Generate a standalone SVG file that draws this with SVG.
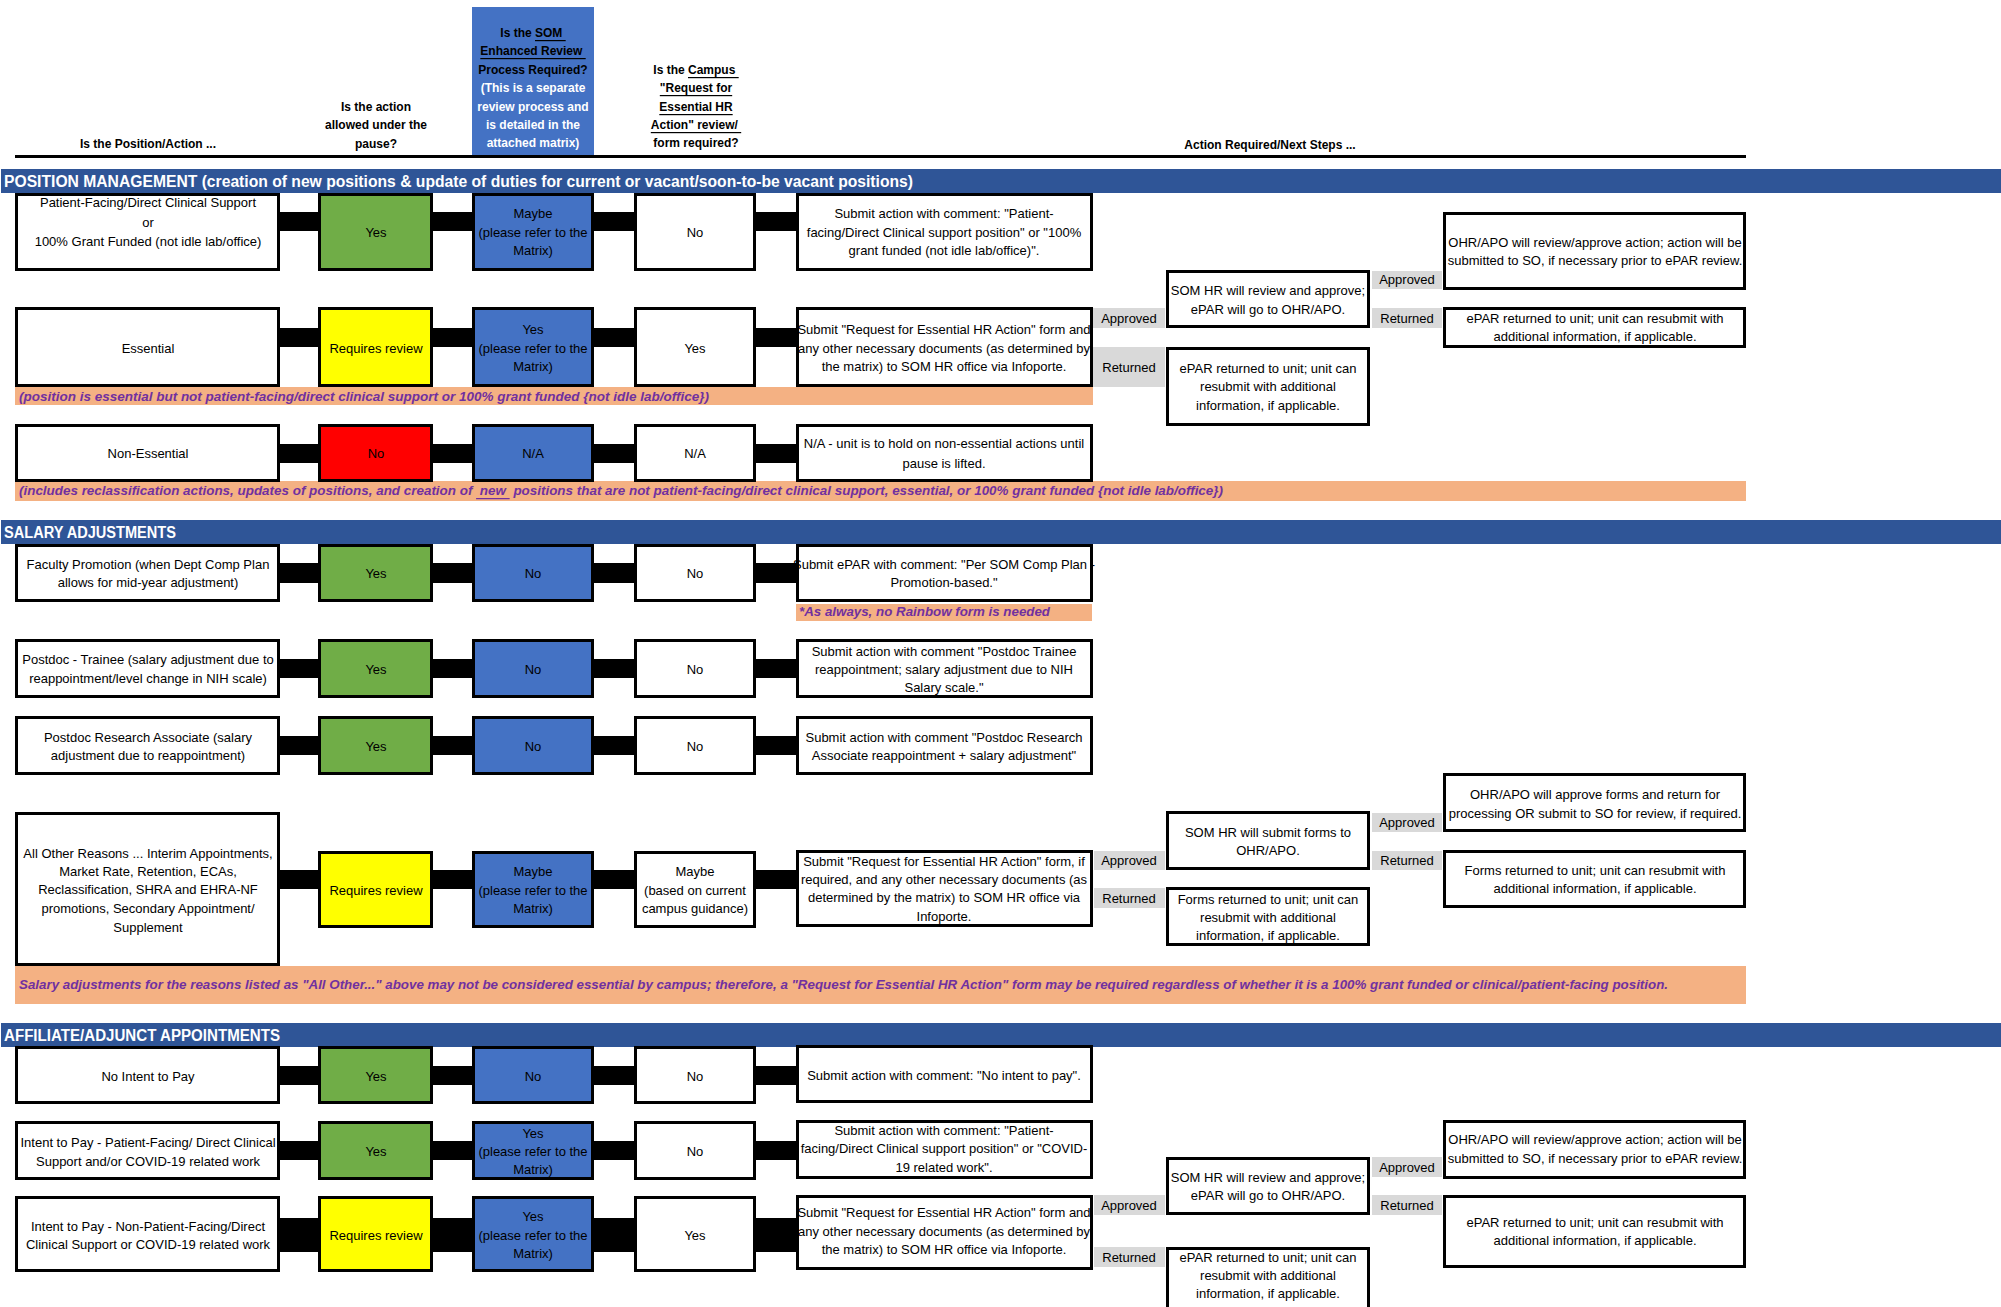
<svg xmlns="http://www.w3.org/2000/svg" width="2001" height="1307" viewBox="0 0 2001 1307">
<style>
text{font-family:"Liberation Sans",Arial,sans-serif;font-size:13px;fill:#000;text-anchor:middle;dominant-baseline:central}
.hd{font-weight:bold;font-size:12px}
.wh{fill:#fff}
.sec{font-weight:bold;font-size:16px;fill:#fff;text-anchor:start}
.note{font-weight:bold;font-style:italic;fill:#7030A0;text-anchor:start;font-size:12.5px}
.box{fill:#fff;stroke:#000;stroke-width:3}
.grn{fill:#70AD47;stroke:#000;stroke-width:3}
.blu{fill:#4472C4;stroke:#000;stroke-width:3}
.yel{fill:#FFFF00;stroke:#000;stroke-width:3}
.red{fill:#FF0000;stroke:#000;stroke-width:3}
.gry{fill:#D9D9D9}
.pch{fill:#F4B183}
.bar{fill:#2F5597}
.con{fill:#000}
.u{text-decoration:underline}
</style>
<rect width="2001" height="1307" fill="#fff"/>

<!-- header -->
<g id="header">
<rect x="472" y="7" width="122" height="148" fill="#4472C4"/>
<text class="hd" x="148" y="144">Is the Position/Action ...</text>
<text class="hd" x="376" y="107">Is the action</text>
<text class="hd" x="376" y="125">allowed under the</text>
<text class="hd" x="376" y="144">pause?</text>
<text class="hd" x="533" y="33">Is the <tspan class="u">SOM&#160;</tspan></text>
<text class="hd u" x="533" y="51">Enhanced Review&#160;</text>
<text class="hd" x="533" y="70">Process Required?</text>
<text class="hd wh" x="533" y="88">(This is a separate</text>
<text class="hd wh" x="533" y="107">review process and</text>
<text class="hd wh" x="533" y="125">is detailed in the</text>
<text class="hd wh" x="533" y="143">attached matrix)</text>
<text class="hd" x="696" y="70">Is the <tspan class="u">Campus&#160;</tspan></text>
<text class="hd u" x="696" y="88">"Request for</text>
<text class="hd u" x="696" y="107">Essential HR</text>
<text class="hd u" x="696" y="125">Action" review/&#160;</text>
<text class="hd" x="696" y="143">form required?</text>
<text class="hd" x="1270" y="145">Action Required/Next Steps ...</text>
<rect x="15" y="155" width="1731" height="3" fill="#000"/>
</g>

<!-- section bars and notes -->
<g id="sec-pm"><rect class="bar" x="1" y="169" width="2000" height="24"/><text class="sec" x="4" y="181" textLength="909" lengthAdjust="spacingAndGlyphs">POSITION MANAGEMENT (creation of new positions &amp; update of duties for current or vacant/soon-to-be vacant positions)</text></g>
<g id="sec-sa"><rect class="bar" x="1" y="520" width="2000" height="24"/><text class="sec" x="4" y="532" textLength="172" lengthAdjust="spacingAndGlyphs">SALARY ADJUSTMENTS</text></g>
<g id="sec-aa"><rect class="bar" x="1" y="1023" width="2000" height="24"/><text class="sec" x="4" y="1035" textLength="276" lengthAdjust="spacingAndGlyphs">AFFILIATE/ADJUNCT APPOINTMENTS</text></g>

<g id="note-pm2"><rect class="pch" x="15" y="387" width="1078" height="18"/><text class="note" x="19" y="397" textLength="690" lengthAdjust="spacingAndGlyphs">(position is essential but not patient-facing/direct clinical support or 100% grant funded {not idle lab/office})</text></g>
<g id="note-pm3"><rect class="pch" x="15" y="481" width="1731" height="20"/><text class="note" x="19" y="491" textLength="1204" lengthAdjust="spacingAndGlyphs">(includes reclassification actions, updates of positions, and creation of <tspan class="u">&#160;new&#160;</tspan> positions that are not patient-facing/direct clinical support, essential, or 100% grant funded {not idle lab/office})</text></g>
<g id="note-sa1"><rect class="pch" x="796" y="604" width="296" height="17"/><text class="note" x="799" y="612" textLength="251" lengthAdjust="spacingAndGlyphs">*As always, no Rainbow form is needed</text></g>
<g id="note-sa4"><rect class="pch" x="15" y="966" width="1731" height="38"/><text class="note" x="19" y="985" textLength="1649" lengthAdjust="spacingAndGlyphs">Salary adjustments for the reasons listed as "All Other..." above may not be considered essential by campus; therefore, a "Request for Essential HR Action" form may be required regardless of whether it is a 100% grant funded or clinical/patient-facing position.</text></g>

<!-- connectors -->
<g id="connectors">
<rect class="con" x="280" y="212" width="40" height="19"/><rect class="con" x="433" y="212" width="40" height="19"/><rect class="con" x="594" y="212" width="40" height="19"/><rect class="con" x="756" y="212" width="40" height="19"/>
<rect class="con" x="280" y="328" width="40" height="19"/><rect class="con" x="433" y="328" width="40" height="19"/><rect class="con" x="594" y="328" width="40" height="19"/><rect class="con" x="756" y="328" width="40" height="19"/>
<rect class="con" x="280" y="444" width="40" height="19"/><rect class="con" x="433" y="444" width="40" height="19"/><rect class="con" x="594" y="444" width="40" height="19"/><rect class="con" x="756" y="444" width="40" height="19"/>
<rect class="con" x="280" y="563" width="40" height="20"/><rect class="con" x="433" y="563" width="40" height="20"/><rect class="con" x="594" y="563" width="40" height="20"/><rect class="con" x="756" y="563" width="40" height="20"/>
<rect class="con" x="280" y="659" width="40" height="19"/><rect class="con" x="433" y="659" width="40" height="19"/><rect class="con" x="594" y="659" width="40" height="19"/><rect class="con" x="756" y="659" width="40" height="19"/>
<rect class="con" x="280" y="736" width="40" height="19"/><rect class="con" x="433" y="736" width="40" height="19"/><rect class="con" x="594" y="736" width="40" height="19"/><rect class="con" x="756" y="736" width="40" height="19"/>
<rect class="con" x="280" y="870" width="40" height="19"/><rect class="con" x="433" y="870" width="40" height="19"/><rect class="con" x="594" y="870" width="40" height="19"/><rect class="con" x="756" y="870" width="40" height="19"/>
<rect class="con" x="280" y="1066" width="40" height="19"/><rect class="con" x="433" y="1066" width="40" height="19"/><rect class="con" x="594" y="1066" width="40" height="19"/><rect class="con" x="756" y="1066" width="40" height="19"/>
<rect class="con" x="280" y="1141" width="40" height="19"/><rect class="con" x="433" y="1141" width="40" height="19"/><rect class="con" x="594" y="1141" width="40" height="19"/><rect class="con" x="756" y="1141" width="40" height="19"/>
<rect class="con" x="280" y="1218" width="40" height="34"/><rect class="con" x="433" y="1218" width="40" height="34"/><rect class="con" x="594" y="1218" width="40" height="34"/><rect class="con" x="756" y="1218" width="40" height="34"/>
</g>

<!-- PM row 1 -->
<g id="pm1-a"><rect class="box" x="16.5" y="194.5" width="262" height="75"/><text x="148" y="202">Patient-Facing/Direct Clinical Support</text><text x="148" y="222">or</text><text x="148" y="241">100% Grant Funded (not idle lab/office)</text></g>
<g id="pm1-b"><rect class="grn" x="319.5" y="194.5" width="112" height="75"/><text x="376" y="232">Yes</text></g>
<g id="pm1-c"><rect class="blu" x="473.5" y="194.5" width="119" height="75"/><text x="533" y="213">Maybe</text><text x="533" y="232">(please refer to the</text><text x="533" y="250">Matrix)</text></g>
<g id="pm1-d"><rect class="box" x="635.5" y="194.5" width="119" height="75"/><text x="695" y="232">No</text></g>
<g id="pm1-e"><rect class="box" x="797.5" y="194.5" width="294" height="75"/><text x="944" y="213">Submit action with comment: "Patient-</text><text x="944" y="232">facing/Direct Clinical support position" or "100%</text><text x="944" y="250">grant funded (not idle lab/office)".</text></g>
<g id="pm-ohr"><rect class="box" x="1444.5" y="213.5" width="300" height="75"/><text x="1595" y="242">OHR/APO will review/approve action; action will be</text><text x="1595" y="260">submitted to SO, if necessary prior to ePAR review.</text></g>
<g id="pm-somhr"><rect class="box" x="1167.5" y="271.5" width="201" height="55"/><text x="1268" y="290">SOM HR will review and approve;</text><text x="1268" y="309">ePAR will go to OHR/APO.</text></g>
<g id="pm-appr2"><rect class="gry" x="1372" y="271" width="70" height="18"/><text x="1407" y="279">Approved</text></g>
<g id="pm-ret2"><rect class="gry" x="1372" y="308" width="70" height="20"/><text x="1407" y="318">Returned</text></g>
<g id="pm-epar-r"><rect class="box" x="1444.5" y="308.5" width="300" height="38"/><text x="1595" y="318">ePAR returned to unit; unit can resubmit with</text><text x="1595" y="336">additional information, if applicable.</text></g>

<!-- PM row 2 -->
<g id="pm2-a"><rect class="box" x="16.5" y="308.5" width="262" height="77"/><text x="148" y="348">Essential</text></g>
<g id="pm2-b"><rect class="yel" x="319.5" y="308.5" width="112" height="77"/><text x="376" y="348">Requires review</text></g>
<g id="pm2-c"><rect class="blu" x="473.5" y="308.5" width="119" height="77"/><text x="533" y="329">Yes</text><text x="533" y="348">(please refer to the</text><text x="533" y="366">Matrix)</text></g>
<g id="pm2-d"><rect class="box" x="635.5" y="308.5" width="119" height="77"/><text x="695" y="348">Yes</text></g>
<g id="pm2-e"><rect class="box" x="797.5" y="308.5" width="294" height="77"/><text x="944" y="329">Submit "Request for Essential HR Action" form and</text><text x="944" y="348">any other necessary documents (as determined by</text><text x="944" y="366">the matrix) to SOM HR office via Infoporte.</text></g>
<g id="pm-appr1"><rect class="gry" x="1093" y="308" width="72" height="20"/><text x="1129" y="318">Approved</text></g>
<g id="pm-ret1"><rect class="gry" x="1093" y="347" width="72" height="40"/><text x="1129" y="367">Returned</text></g>
<g id="pm-epar-m"><rect class="box" x="1167.5" y="348.5" width="201" height="76"/><text x="1268" y="368">ePAR returned to unit; unit can</text><text x="1268" y="386">resubmit with additional</text><text x="1268" y="405">information, if applicable.</text></g>

<!-- PM row 3 -->
<g id="pm3-a"><rect class="box" x="16.5" y="425.5" width="262" height="55"/><text x="148" y="453">Non-Essential</text></g>
<g id="pm3-b"><rect class="red" x="319.5" y="425.5" width="112" height="55"/><text x="376" y="453">No</text></g>
<g id="pm3-c"><rect class="blu" x="473.5" y="425.5" width="119" height="55"/><text x="533" y="453">N/A</text></g>
<g id="pm3-d"><rect class="box" x="635.5" y="425.5" width="119" height="55"/><text x="695" y="453">N/A</text></g>
<g id="pm3-e"><rect class="box" x="797.5" y="425.5" width="294" height="55"/><text x="944" y="443">N/A - unit is to hold on non-essential actions until</text><text x="944" y="463">pause is lifted.</text></g>

<!-- SA row 1 -->
<g id="sa1-a"><rect class="box" x="16.5" y="545.5" width="262" height="55"/><text x="148" y="564">Faculty Promotion (when Dept Comp Plan</text><text x="148" y="582">allows for mid-year adjustment)</text></g>
<g id="sa1-b"><rect class="grn" x="319.5" y="545.5" width="112" height="55"/><text x="376" y="573">Yes</text></g>
<g id="sa1-c"><rect class="blu" x="473.5" y="545.5" width="119" height="55"/><text x="533" y="573">No</text></g>
<g id="sa1-d"><rect class="box" x="635.5" y="545.5" width="119" height="55"/><text x="695" y="573">No</text></g>
<g id="sa1-e"><rect class="box" x="797.5" y="545.5" width="294" height="55"/><text x="944" y="564">Submit ePAR with comment: "Per SOM Comp Plan -</text><text x="944" y="582">Promotion-based."</text></g>

<!-- SA row 2 -->
<g id="sa2-a"><rect class="box" x="16.5" y="640.5" width="262" height="56"/><text x="148" y="659">Postdoc - Trainee (salary adjustment due to</text><text x="148" y="678">reappointment/level change in NIH scale)</text></g>
<g id="sa2-b"><rect class="grn" x="319.5" y="640.5" width="112" height="56"/><text x="376" y="669">Yes</text></g>
<g id="sa2-c"><rect class="blu" x="473.5" y="640.5" width="119" height="56"/><text x="533" y="669">No</text></g>
<g id="sa2-d"><rect class="box" x="635.5" y="640.5" width="119" height="56"/><text x="695" y="669">No</text></g>
<g id="sa2-e"><rect class="box" x="797.5" y="640.5" width="294" height="56"/><text x="944" y="651">Submit action with comment "Postdoc Trainee</text><text x="944" y="669">reappointment; salary adjustment due to NIH</text><text x="944" y="687">Salary scale."</text></g>

<!-- SA row 3 -->
<g id="sa3-a"><rect class="box" x="16.5" y="717.5" width="262" height="56"/><text x="148" y="737">Postdoc Research Associate (salary</text><text x="148" y="755">adjustment due to reappointment)</text></g>
<g id="sa3-b"><rect class="grn" x="319.5" y="717.5" width="112" height="56"/><text x="376" y="746">Yes</text></g>
<g id="sa3-c"><rect class="blu" x="473.5" y="717.5" width="119" height="56"/><text x="533" y="746">No</text></g>
<g id="sa3-d"><rect class="box" x="635.5" y="717.5" width="119" height="56"/><text x="695" y="746">No</text></g>
<g id="sa3-e"><rect class="box" x="797.5" y="717.5" width="294" height="56"/><text x="944" y="737">Submit action with comment "Postdoc Research</text><text x="944" y="755">Associate reappointment + salary adjustment"</text></g>

<!-- SA row 4 -->
<g id="sa4-a"><rect class="box" x="16.5" y="813.5" width="262" height="151"/><text x="148" y="853">All Other Reasons ... Interim Appointments,</text><text x="148" y="871">Market Rate, Retention, ECAs,</text><text x="148" y="889">Reclassification, SHRA and EHRA-NF</text><text x="148" y="908">promotions, Secondary Appointment/</text><text x="148" y="927">Supplement</text></g>
<g id="sa4-b"><rect class="yel" x="319.5" y="852.5" width="112" height="74"/><text x="376" y="890">Requires review</text></g>
<g id="sa4-c"><rect class="blu" x="473.5" y="852.5" width="119" height="74"/><text x="533" y="871">Maybe</text><text x="533" y="890">(please refer to the</text><text x="533" y="908">Matrix)</text></g>
<g id="sa4-d"><rect class="box" x="635.5" y="852.5" width="119" height="74"/><text x="695" y="871">Maybe</text><text x="695" y="890">(based on current</text><text x="695" y="908">campus guidance)</text></g>
<g id="sa4-e"><rect class="box" x="797.5" y="851.5" width="294" height="74"/><text x="944" y="861">Submit "Request for Essential HR Action" form, if</text><text x="944" y="879">required, and any other necessary documents (as</text><text x="944" y="897">determined by the matrix) to SOM HR office via</text><text x="944" y="916">Infoporte.</text></g>
<g id="sa-appr1"><rect class="gry" x="1094" y="851" width="71" height="19"/><text x="1129" y="860">Approved</text></g>
<g id="sa-ret1"><rect class="gry" x="1094" y="888" width="71" height="20"/><text x="1129" y="898">Returned</text></g>
<g id="sa-somhr"><rect class="box" x="1167.5" y="812.5" width="201" height="56"/><text x="1268" y="832">SOM HR will submit forms to</text><text x="1268" y="850">OHR/APO.</text></g>
<g id="sa-forms-m"><rect class="box" x="1167.5" y="888.5" width="201" height="56"/><text x="1268" y="899">Forms returned to unit; unit can</text><text x="1268" y="917">resubmit with additional</text><text x="1268" y="935">information, if applicable.</text></g>
<g id="sa-appr2"><rect class="gry" x="1372" y="813" width="70" height="19"/><text x="1407" y="822">Approved</text></g>
<g id="sa-ret2"><rect class="gry" x="1372" y="851" width="70" height="19"/><text x="1407" y="860">Returned</text></g>
<g id="sa-ohr"><rect class="box" x="1444.5" y="774.5" width="300" height="56"/><text x="1595" y="794">OHR/APO will approve forms and return for</text><text x="1595" y="813">processing OR submit to SO for review, if required.</text></g>
<g id="sa-forms-r"><rect class="box" x="1444.5" y="851.5" width="300" height="55"/><text x="1595" y="870">Forms returned to unit; unit can resubmit with</text><text x="1595" y="888">additional information, if applicable.</text></g>

<!-- AA row 1 -->
<g id="aa1-a"><rect class="box" x="16.5" y="1047.5" width="262" height="55"/><text x="148" y="1076">No Intent to Pay</text></g>
<g id="aa1-b"><rect class="grn" x="319.5" y="1047.5" width="112" height="55"/><text x="376" y="1076">Yes</text></g>
<g id="aa1-c"><rect class="blu" x="473.5" y="1047.5" width="119" height="55"/><text x="533" y="1076">No</text></g>
<g id="aa1-d"><rect class="box" x="635.5" y="1047.5" width="119" height="55"/><text x="695" y="1076">No</text></g>
<g id="aa1-e"><rect class="box" x="797.5" y="1046.5" width="294" height="55"/><text x="944" y="1075">Submit action with comment: "No intent to pay".</text></g>

<!-- AA row 2 -->
<g id="aa2-a"><rect class="box" x="16.5" y="1122.5" width="262" height="56"/><text x="148" y="1142">Intent to Pay - Patient-Facing/ Direct Clinical</text><text x="148" y="1161">Support and/or COVID-19 related work</text></g>
<g id="aa2-b"><rect class="grn" x="319.5" y="1122.5" width="112" height="56"/><text x="376" y="1151">Yes</text></g>
<g id="aa2-c"><rect class="blu" x="473.5" y="1122.5" width="119" height="56"/><text x="533" y="1133">Yes</text><text x="533" y="1151">(please refer to the</text><text x="533" y="1169">Matrix)</text></g>
<g id="aa2-d"><rect class="box" x="635.5" y="1122.5" width="119" height="56"/><text x="695" y="1151">No</text></g>
<g id="aa2-e"><rect class="box" x="797.5" y="1121.5" width="294" height="56"/><text x="944" y="1130">Submit action with comment: "Patient-</text><text x="944" y="1148">facing/Direct Clinical support position" or "COVID-</text><text x="944" y="1167">19 related work".</text></g>
<g id="aa-ohr"><rect class="box" x="1444.5" y="1121.5" width="300" height="56"/><text x="1595" y="1139">OHR/APO will review/approve action; action will be</text><text x="1595" y="1158">submitted to SO, if necessary prior to ePAR review.</text></g>

<!-- AA row 3 -->
<g id="aa3-a"><rect class="box" x="16.5" y="1197.5" width="262" height="73"/><text x="148" y="1226">Intent to Pay - Non-Patient-Facing/Direct</text><text x="148" y="1244">Clinical Support or COVID-19 related work</text></g>
<g id="aa3-b"><rect class="yel" x="319.5" y="1197.5" width="112" height="73"/><text x="376" y="1235">Requires review</text></g>
<g id="aa3-c"><rect class="blu" x="473.5" y="1197.5" width="119" height="73"/><text x="533" y="1216">Yes</text><text x="533" y="1235">(please refer to the</text><text x="533" y="1253">Matrix)</text></g>
<g id="aa3-d"><rect class="box" x="635.5" y="1197.5" width="119" height="73"/><text x="695" y="1235">Yes</text></g>
<g id="aa3-e"><rect class="box" x="797.5" y="1196.5" width="294" height="72"/><text x="944" y="1212">Submit "Request for Essential HR Action" form and</text><text x="944" y="1231">any other necessary documents (as determined by</text><text x="944" y="1249">the matrix) to SOM HR office via Infoporte.</text></g>
<g id="aa-appr1"><rect class="gry" x="1094" y="1195" width="71" height="20"/><text x="1129" y="1205">Approved</text></g>
<g id="aa-ret1"><rect class="gry" x="1094" y="1247" width="71" height="20"/><text x="1129" y="1257">Returned</text></g>
<g id="aa-somhr"><rect class="box" x="1167.5" y="1158.5" width="201" height="55"/><text x="1268" y="1177">SOM HR will review and approve;</text><text x="1268" y="1195">ePAR will go to OHR/APO.</text></g>
<g id="aa-epar-m"><rect class="box" x="1167.5" y="1248.5" width="201" height="70"/><text x="1268" y="1257">ePAR returned to unit; unit can</text><text x="1268" y="1275">resubmit with additional</text><text x="1268" y="1293">information, if applicable.</text></g>
<g id="aa-appr2"><rect class="gry" x="1372" y="1157" width="70" height="20"/><text x="1407" y="1167">Approved</text></g>
<g id="aa-ret2"><rect class="gry" x="1372" y="1195" width="70" height="20"/><text x="1407" y="1205">Returned</text></g>
<g id="aa-epar-r"><rect class="box" x="1444.5" y="1196.5" width="300" height="70"/><text x="1595" y="1222">ePAR returned to unit; unit can resubmit with</text><text x="1595" y="1240">additional information, if applicable.</text></g>
</svg>
